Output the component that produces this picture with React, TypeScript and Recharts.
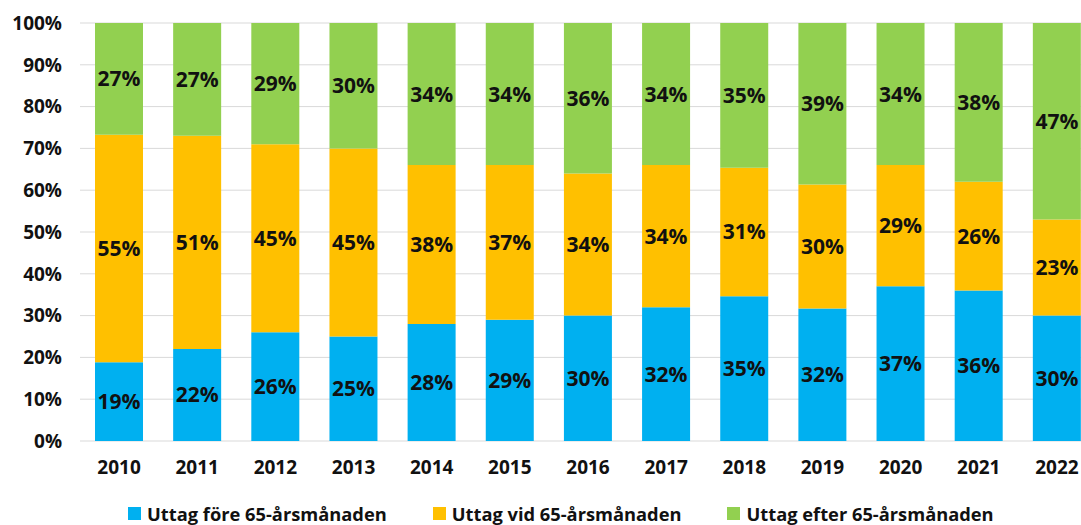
import { BarChart, Bar, XAxis, YAxis, CartesianGrid, Legend, LabelList } from 'recharts';

const years = ['2010', '2011', '2012', '2013', '2014', '2015', '2016', '2017', '2018', '2019', '2020', '2021', '2022'];
const fore = [19, 22, 26, 25, 28, 29, 30, 32, 35, 32, 37, 36, 30];
const vid = [55, 51, 45, 45, 38, 37, 34, 34, 31, 30, 29, 26, 23];
const efter = [27, 27, 29, 30, 34, 34, 36, 34, 35, 39, 34, 38, 47];
const yTicks = [0, 0.1, 0.2, 0.3, 0.4, 0.5, 0.6, 0.7, 0.8, 0.9, 1];

const series = [
  { key: 'fore', name: 'Uttag före 65-årsmånaden', color: '#00B0F0' },
  { key: 'vid', name: 'Uttag vid 65-årsmånaden', color: '#FFC000' },
  { key: 'efter', name: 'Uttag efter 65-årsmånaden', color: '#92D050' },
];

const data = years.map((year, i) => ({
  year,
  fore: fore[i],
  vid: vid[i],
  efter: efter[i],
}));

const font = '"Open Sans", sans-serif';
const tickStyle = { fontFamily: font, fontSize: 19, fontWeight: 700, fill: '#111' };

function ChartLegend() {
  return (
    <div style={{ height: 44, position: 'relative', fontFamily: font }}>
      <div style={{ position: 'absolute', left: 128, top: 20, display: 'flex', gap: 46 }}>
        {series.map(s => (
          <div key={s.key} style={{ display: 'flex', alignItems: 'center', fontSize: 18.3, fontWeight: 700, color: '#111' }}>
            <span style={{ width: 13, height: 13, background: s.color, marginRight: 6, display: 'inline-block' }} />
            {s.name}
          </div>
        ))}
      </div>
    </div>
  );
}

export default function App() {
  return (
    <div style={{ position: 'absolute', left: 0, top: 0, width: 1081, height: 525, overflow: 'hidden', background: '#fff' }}>
      <BarChart
        width={1100}
        height={525}
        data={data}
        stackOffset="expand"
        barSize={48}
        margin={{ top: 23, right: 4, left: 0, bottom: 0 }}
      >
        <CartesianGrid vertical={false} stroke="#d9d9d9" />
        <XAxis dataKey="year" axisLine={false} tickLine={false} height={40} tickMargin={14} tick={tickStyle} />
        <YAxis
          width={80}
          ticks={yTicks}
          domain={[0, 1]}
          axisLine={false}
          tickLine={false}
          tickMargin={12}
          interval={0}
          tick={tickStyle}
          tickFormatter={v => `${Math.round(v * 100)}%`}
        />
        <Legend verticalAlign="bottom" content={() => <ChartLegend />} />
        {series.map(s => (
          <Bar key={s.key} dataKey={s.key} name={s.name} stackId="a" fill={s.color} isAnimationActive={false}>
            <LabelList
              dataKey={s.key}
              position="center"
              formatter={(v: number) => `${v}%`}
              style={{ fontFamily: font, fontSize: 21, fontWeight: 700, fill: '#111' }}
            />
          </Bar>
        ))}
      </BarChart>
    </div>
  );
}
